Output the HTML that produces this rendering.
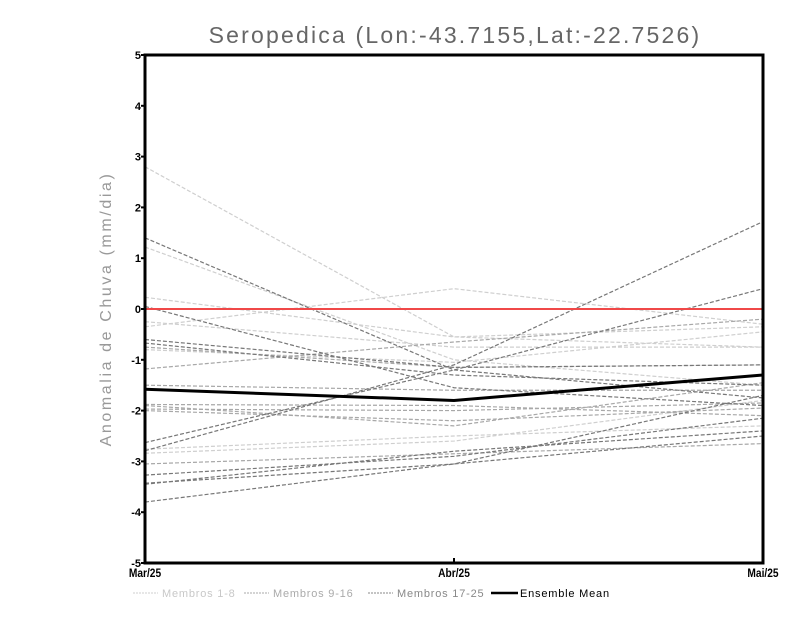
<!DOCTYPE html>
<html><head><meta charset="utf-8"><style>
body{margin:0;background:#fff}
svg{display:block;font-family:"Liberation Sans",sans-serif}
</style></head><body>
<svg id="chart" width="800" height="618" viewBox="0 0 800 618">
<text x="455" y="43" text-anchor="middle" font-size="23" fill="#666" letter-spacing="2.2">Seropedica (Lon:-43.7155,Lat:-22.7526)</text>
<text transform="translate(111,309) rotate(-90)" text-anchor="middle" font-size="16" fill="#999" letter-spacing="2.6">Anomalia de Chuva (mm/dia)</text>
<g id="series"></g>
<g id="axes"></g>
<g id="legend"></g>
</svg>
<script>
const categories = ["Mar/25","Abr/25","Mai/25"];
const yTicks = [-5,-4,-3,-2,-1,0,1,2,3,4,5];
const membersLight = [[2.8,-0.55,-0.35],[1.22,-1.0,-1.5],[0.23,-0.55,-0.75],[-0.35,0.4,-0.3],[-0.8,-1.05,-0.45],[-0.25,-0.75,-0.75],[-2.76,-2.5,-2.3],[-2.84,-2.6,-1.8]];
const membersMid = [[-1.18,-0.65,-0.2],[-1.5,-1.6,-1.6],[-1.88,-1.9,-2.1],[-1.97,-2.0,-1.85],[-3.05,-2.85,-2.65],[-1.9,-2.3,-1.45],[-0.75,-1.15,-1.1],[-2.0,-2.2,-1.95]];
const membersDark = [[1.4,-1.2,-1.75],[0.05,-1.55,-1.9],[-0.6,-1.15,-1.1],[-0.67,-1.3,-1.5],[-2.63,-1.2,0.4],[-2.79,-1.1,1.72],[-3.27,-2.9,-2.15],[-3.43,-3.05,-1.7],[-3.45,-2.8,-2.4],[-3.8,-3.05,-2.5]];
const ensembleMean = [-1.58,-1.8,-1.3];
const legendLabels = ["Membros 1-8","Membros 9-16","Membros 17-25","Ensemble Mean"];

const NS="http://www.w3.org/2000/svg";
const X0=145,X1=763,Y0=55,Y1=563;
function xs(i){return X0+(X1-X0)*i/(categories.length-1);}
function ys(v){return Y1-(v+5)/10*(Y1-Y0);}
function el(t,a,p){const e=document.createElementNS(NS,t);for(const k in a)e.setAttribute(k,a[k]);p.appendChild(e);return e;}
const S=document.getElementById('series'),A=document.getElementById('axes'),L=document.getElementById('legend');
function pts(arr){return arr.map((v,i)=>xs(i)+','+ys(v)).join(' ');}
function draw(group,color,nm){group.forEach((s,j)=>{
 const p=el('polyline',{points:pts(s),fill:'none',stroke:color,'stroke-width':1.2,'stroke-dasharray':'4,2'},S);
 
 
});}
draw(membersLight,'#cfcfcf','member-light');
draw(membersMid,'#a8a8a8','member-mid');
draw(membersDark,'#777','member-dark');
const zl=el('line',{x1:X0,x2:X1,y1:ys(0),y2:ys(0),stroke:'#f04848','stroke-width':2},S);


const m=el('polyline',{points:pts(ensembleMean),fill:'none',stroke:'#000','stroke-width':3},S);


const fr=el('rect',{x:X0,y:Y0,width:X1-X0,height:Y1-Y0,fill:'none',stroke:'#000','stroke-width':3},A);


yTicks.forEach(v=>{
 el('line',{x1:X0-4,x2:X0,y1:ys(v),y2:ys(v),stroke:'#000','stroke-width':2},A);
 const t=el('text',{x:X0-4,y:ys(v)+4,'text-anchor':'end','font-size':11,'font-weight':'bold'},A);
 t.textContent=v;
 
 
});
categories.forEach((c,i)=>{
 el('line',{x1:xs(i),x2:xs(i),y1:Y1,y2:Y1-5,stroke:'#000','stroke-width':2},A);
 const t=el('text',{x:xs(i),y:Y1+14,'text-anchor':'middle','font-size':12,'font-weight':'bold',transform:'translate('+(xs(i)*0.15)+',0) scale(0.85,1)'},A);
 t.textContent=c;
 
 
});
const lx=[133,244,368,491],lc=['#cfcfcf','#a8a8a8','#888','#000'],tc=['#c8c8c8','#aaa','#888','#000'];
legendLabels.forEach((lab,i)=>{
 const isMean=i===3;
 el('line',{x1:lx[i],x2:lx[i]+(isMean?27:25),y1:593,y2:593,stroke:lc[i],'stroke-width':isMean?2.5:1,'stroke-dasharray':isMean?'none':'2,1'},L);
 const t=el('text',{x:lx[i]+29,y:597,'font-size':11,fill:tc[i],'letter-spacing':0.8},L);
 t.textContent=lab;
 
 
});
</script>
</body></html>
